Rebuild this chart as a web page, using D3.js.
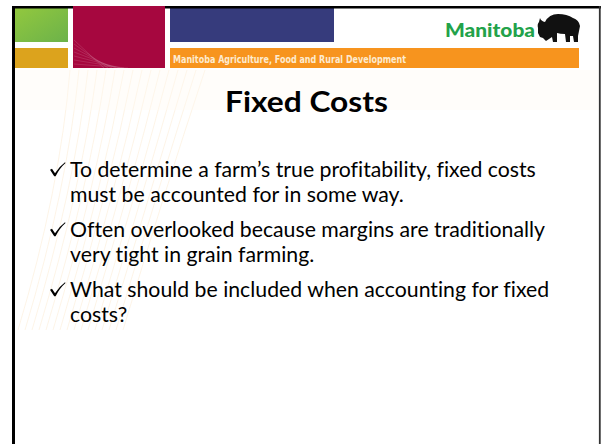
<!DOCTYPE html>
<html>
<head>
<meta charset="utf-8">
<script src="https://cdn.jsdelivr.net/npm/d3@7"></script>
<style>
  html, body { margin: 0; padding: 0; background: #fff; }
  svg { display: block; }
  text { font-variant-ligatures: none; font-feature-settings: "liga" 0, "clig" 0; }
</style>
</head>
<body>
<div id="slide"></div>
<script>
// slide texts
var bannerText = "Manitoba Agriculture, Food and Rural Development";
var brandText = "Manitoba";
var titleText = "Fixed Costs";
var bullets = [
  ["To determine a farm\u2019s true profitability, fixed costs", "must be accounted for in some way."],
  ["Often overlooked because margins are traditionally", "very tight in grain farming."],
  ["What should be included when accounting for fixed", "costs?"]
];

var W = 602, H = 444;
var svg = d3.select("#slide").append("svg")
  .attr("width", W).attr("height", H)
  .attr("viewBox", "0 0 " + W + " " + H);

var defs = svg.append("defs");
var g1 = defs.append("linearGradient").attr("id", "greenGrad")
  .attr("x1", 0).attr("y1", 0).attr("x2", 1).attr("y2", 1);
g1.append("stop").attr("offset", 0).attr("stop-color", "#92c83e");
g1.append("stop").attr("offset", 1).attr("stop-color", "#6cb24a");

// faint fan of curves behind the text
var fan = svg.append("g").attr("fill", "none").attr("stroke", "#f6cf9a")
  .attr("stroke-width", 0.8).attr("stroke-opacity", 0.3);
d3.range(16).forEach(function(i) {
  var x0 = 70 + i * 9, x1 = 18 + i * 7;
  fan.append("path")
    .attr("d", "M" + x0 + ",70 Q" + (x0 - 10 - i * 2) + ",190 " + x1 + ",330");
});
svg.append("rect").attr("x", 15).attr("y", 70).attr("width", 585).attr("height", 40)
  .attr("fill", "#fffaf0").attr("opacity", 0.35);

// header blocks
var header = svg.append("g");
header.append("rect").attr("x", 15).attr("y", 8).attr("width", 53).attr("height", 34).attr("fill", "url(#greenGrad)");
header.append("rect").attr("x", 15).attr("y", 48).attr("width", 53).attr("height", 20).attr("fill", "#dca31d");
header.append("rect").attr("x", 73).attr("y", 6).attr("width", 92).attr("height", 62).attr("fill", "#a6073f");
header.append("rect").attr("x", 170).attr("y", 8).attr("width", 164).attr("height", 34).attr("fill", "#363b7c");
header.append("rect").attr("x", 170).attr("y", 48).attr("width", 409).attr("height", 20).attr("fill", "#f7941e");

// light diagonal streaks in the crimson block
var streaks = header.append("g").attr("stroke", "#ffffff").attr("stroke-opacity", 0.18).attr("stroke-width", 0.7);
d3.range(7).forEach(function(i) {
  streaks.append("line")
    .attr("x1", 74).attr("y1", 40 + i * 4)
    .attr("x2", 74 + 30 + i * 4).attr("y2", 68);
});

// fit a text element to a target width
function fit(sel, width) {
  var w = sel.node().getComputedTextLength();
  if (w > 0) sel.attr("textLength", width).attr("lengthAdjust", "spacingAndGlyphs");
  return sel;
}

fit(header.append("text")
  .attr("x", 173).attr("y", 62.5)
  .attr("font-family", "'DejaVu Sans Condensed', 'DejaVu Sans', sans-serif")
  .attr("font-weight", "bold").attr("font-size", 10)
  .attr("fill", "#fdebd0")
  .text(bannerText), 233);

fit(header.append("text")
  .attr("x", 445).attr("y", 36.5)
  .attr("font-family", "Lato, 'Open Sans', sans-serif")
  .attr("font-weight", 900).attr("font-size", 18.5)
  .attr("fill", "#22a24a")
  .text(brandText), 90);

// bison silhouette (facing left)
header.append("path")
  .attr("fill", "#111")
  .attr("d", "M540,18 Q541,21 545,22 Q549,14 558,14 Q567,14 573,18 Q579,20 580,26 L579,31 L578,36 L578,42 L574,42 L573,36 L570,36 L570,42 L566,42 L565,34 Q560,34 557,33 L557,42 L553,42 L552,37 L549,39 L546,41 L543,38 L540,37 L538,33 L538,28 Q537,24 539,22 Z");

// frame
var frame = svg.append("g").attr("fill", "none");
frame.append("line").attr("x1", 13.5).attr("y1", 6).attr("x2", 13.5).attr("y2", H).attr("stroke", "#000").attr("stroke-width", 3);
frame.append("line").attr("x1", 12).attr("y1", 7.2).attr("x2", 73).attr("y2", 7.2).attr("stroke", "#000").attr("stroke-width", 2.4);
frame.append("line").attr("x1", 165).attr("y1", 7.2).attr("x2", 601).attr("y2", 7.2).attr("stroke", "#000").attr("stroke-width", 2.4);
frame.append("line").attr("x1", 599.8).attr("y1", 6).attr("x2", 599.8).attr("y2", H).attr("stroke", "#333").attr("stroke-width", 1.8);

// title
fit(svg.append("text")
  .attr("x", 306.5).attr("y", 112)
  .attr("text-anchor", "middle")
  .attr("font-family", "Lato, 'Open Sans', sans-serif")
  .attr("font-weight", "bold").attr("font-size", 28)
  .attr("fill", "#000")
  .text(titleText), 163);

// bullets
var y = d3.scaleLinear().domain([0, 1]).range([176.7, 236.7]);
var lineStep = 25.5;
var body = svg.append("g").attr("font-family", "Lato, 'Open Sans', sans-serif").attr("font-size", 21).attr("fill", "#000");

var textGroup = body.append("g");
bullets.forEach(function(lines, i) {
  // check mark drawn as a shape, baseline-aligned to the first line
  var b = y(i);
  body.append("path")
    .attr("fill", "#000")
    .attr("d", "M50," + (b - 7) + " L52," + (b - 8) + " L55," + (b - 3.5) +
               " Q59," + (b - 10) + " 65," + (b - 14.5) + " L65.5," + (b - 13.8) +
               " Q59.5," + (b - 8.5) + " 55.6," + (b - 0.5) + " L54.2," + (b - 0.5) + " Z");
  lines.forEach(function(t, j) {
    textGroup.append("text")
      .attr("x", 0).attr("y", b + j * lineStep)
      .text(t);
  });
});
// scale text horizontally so the first line spans like the original
var natural = textGroup.select("text").node().getComputedTextLength();
var k = natural > 0 ? 466 / natural : 1;
textGroup.attr("transform", "translate(70,0) scale(" + k + ",1)");
</script>
</body>
</html>
